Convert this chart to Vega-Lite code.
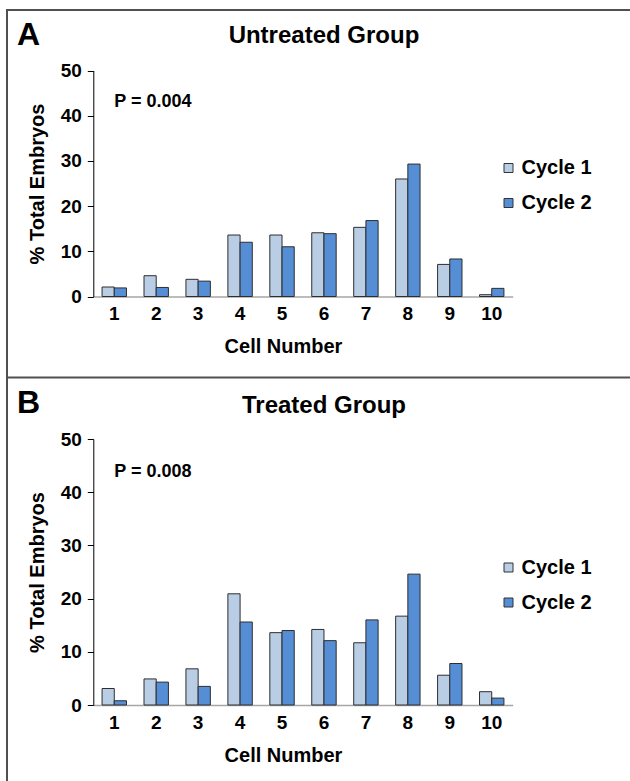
{
  "$schema": "https://vega.github.io/schema/vega-lite/v6.json",
  "width": 640,
  "height": 790,
  "autosize": {"type": "none"},
  "padding": {"left": 7, "top": 10, "right": -17, "bottom": -19},
  "background": "white",
  "config": {
    "font": "Liberation Sans",
    "view": {"stroke": "#505050", "strokeWidth": 2},
    "axis": {"grid": false, "labelFontWeight": "bold", "titleFontWeight": "bold", "labelColor": "black", "titleColor": "black", "labelFontSize": 19, "titleFontSize": 20},
    "legend": {"labelFontSize": 20, "labelFontWeight": "bold", "labelColor": "black", "padding": 0, "rowPadding": 15, "labelOffset": 3, "symbolType": "square", "symbolSize": 81, "symbolStrokeColor": "#333333", "symbolStrokeWidth": 1, "title": null}
  },
  "datasets": {
    "bars": [
      {"group": "Untreated", "cell": "1", "cycle": "Cycle 1", "pct": 2.1},
      {"group": "Untreated", "cell": "1", "cycle": "Cycle 2", "pct": 1.9},
      {"group": "Untreated", "cell": "2", "cycle": "Cycle 1", "pct": 4.6},
      {"group": "Untreated", "cell": "2", "cycle": "Cycle 2", "pct": 2.0},
      {"group": "Untreated", "cell": "3", "cycle": "Cycle 1", "pct": 3.8},
      {"group": "Untreated", "cell": "3", "cycle": "Cycle 2", "pct": 3.4},
      {"group": "Untreated", "cell": "4", "cycle": "Cycle 1", "pct": 13.6},
      {"group": "Untreated", "cell": "4", "cycle": "Cycle 2", "pct": 12.0},
      {"group": "Untreated", "cell": "5", "cycle": "Cycle 1", "pct": 13.6},
      {"group": "Untreated", "cell": "5", "cycle": "Cycle 2", "pct": 11.0},
      {"group": "Untreated", "cell": "6", "cycle": "Cycle 1", "pct": 14.1},
      {"group": "Untreated", "cell": "6", "cycle": "Cycle 2", "pct": 13.9},
      {"group": "Untreated", "cell": "7", "cycle": "Cycle 1", "pct": 15.3},
      {"group": "Untreated", "cell": "7", "cycle": "Cycle 2", "pct": 16.8},
      {"group": "Untreated", "cell": "8", "cycle": "Cycle 1", "pct": 26.0},
      {"group": "Untreated", "cell": "8", "cycle": "Cycle 2", "pct": 29.3},
      {"group": "Untreated", "cell": "9", "cycle": "Cycle 1", "pct": 7.1},
      {"group": "Untreated", "cell": "9", "cycle": "Cycle 2", "pct": 8.3},
      {"group": "Untreated", "cell": "10", "cycle": "Cycle 1", "pct": 0.4},
      {"group": "Untreated", "cell": "10", "cycle": "Cycle 2", "pct": 1.8},
      {"group": "Treated", "cell": "1", "cycle": "Cycle 1", "pct": 3.1},
      {"group": "Treated", "cell": "1", "cycle": "Cycle 2", "pct": 0.8},
      {"group": "Treated", "cell": "2", "cycle": "Cycle 1", "pct": 4.9},
      {"group": "Treated", "cell": "2", "cycle": "Cycle 2", "pct": 4.3},
      {"group": "Treated", "cell": "3", "cycle": "Cycle 1", "pct": 6.8},
      {"group": "Treated", "cell": "3", "cycle": "Cycle 2", "pct": 3.5},
      {"group": "Treated", "cell": "4", "cycle": "Cycle 1", "pct": 20.9},
      {"group": "Treated", "cell": "4", "cycle": "Cycle 2", "pct": 15.6},
      {"group": "Treated", "cell": "5", "cycle": "Cycle 1", "pct": 13.6},
      {"group": "Treated", "cell": "5", "cycle": "Cycle 2", "pct": 14.0},
      {"group": "Treated", "cell": "6", "cycle": "Cycle 1", "pct": 14.2},
      {"group": "Treated", "cell": "6", "cycle": "Cycle 2", "pct": 12.1},
      {"group": "Treated", "cell": "7", "cycle": "Cycle 1", "pct": 11.7},
      {"group": "Treated", "cell": "7", "cycle": "Cycle 2", "pct": 16.0},
      {"group": "Treated", "cell": "8", "cycle": "Cycle 1", "pct": 16.7},
      {"group": "Treated", "cell": "8", "cycle": "Cycle 2", "pct": 24.6},
      {"group": "Treated", "cell": "9", "cycle": "Cycle 1", "pct": 5.6},
      {"group": "Treated", "cell": "9", "cycle": "Cycle 2", "pct": 7.8},
      {"group": "Treated", "cell": "10", "cycle": "Cycle 1", "pct": 2.5},
      {"group": "Treated", "cell": "10", "cycle": "Cycle 2", "pct": 1.3}
    ]
  },
  "layer": [
    {
      "layer": [
        {
          "data": {"name": "bars"},
          "transform": [{"filter": "datum.group === 'Untreated'"}],
          "mark": {"type": "bar", "stroke": "#2e2e2e", "strokeWidth": 1},
          "encoding": {
            "x": {"field": "cell", "type": "ordinal", "scale": {"domain": ["1", "2", "3", "4", "5", "6", "7", "8", "9", "10"], "range": [86.3, 505.7], "paddingInner": 0.418, "paddingOuter": 0.209},
                  "axis": {"orient": "bottom", "offset": -503.5, "title": "Cell Number", "labelAngle": 0, "ticks": false, "tickSize": 0, "labelPadding": 8, "domainColor": "#a6a6a6", "domainWidth": 1.5, "titleX": 276, "titleY": 56, "titleBaseline": "alphabetic"}},
            "xOffset": {"field": "cycle", "type": "nominal", "scale": {"paddingInner": 0, "paddingOuter": 0}},
            "y": {"field": "pct", "type": "quantitative", "scale": {"domain": [0, 50], "range": [286.5, 60.5], "nice": false},
                  "axis": {"orient": "left", "offset": -86.3, "title": "% Total Embryos", "values": [0, 10, 20, 30, 40, 50], "format": "d", "domainColor": "black", "tickColor": "black", "tickSize": 6, "labelPadding": 6, "titleX": -50, "titleBaseline": "alphabetic"}},
            "color": {"field": "cycle", "type": "nominal", "scale": {"domain": ["Cycle 1", "Cycle 2"], "range": ["#b9cde5", "#558ed5"]},
                      "legend": {"orient": "none", "legendX": 491.5, "legendY": 148}}
          }
        },
        {
          "data": {"values": [{"t": "A"}]},
          "mark": {"type": "text", "fontSize": 32, "fontWeight": "bold", "align": "left", "baseline": "alphabetic", "dx": -97.3, "color": "black"},
          "encoding": {"x": {"datum": "1"}, "y": {"datum": 55.64}, "text": {"field": "t"}}
        },
        {
          "data": {"values": [{"t": "Untreated Group"}]},
          "mark": {"type": "text", "fontSize": 24, "fontWeight": "bold", "align": "center", "baseline": "alphabetic", "color": "black"},
          "encoding": {"x": {"datum": "6"}, "y": {"datum": 56.02}, "text": {"field": "t"}}
        },
        {
          "data": {"values": [{"t": "P = 0.004"}]},
          "mark": {"type": "text", "fontSize": 18, "fontWeight": "bold", "align": "left", "baseline": "alphabetic", "color": "black"},
          "encoding": {"x": {"datum": "1"}, "y": {"datum": 41.86}, "text": {"field": "t"}}
        }
      ]
    },
    {
      "layer": [
        {
          "data": {"name": "bars"},
          "transform": [{"filter": "datum.group === 'Treated'"}],
          "mark": {"type": "bar", "stroke": "#2e2e2e", "strokeWidth": 1},
          "encoding": {
            "x": {"field": "cell", "type": "ordinal", "scale": {"domain": ["1", "2", "3", "4", "5", "6", "7", "8", "9", "10"], "range": [86.3, 505.7], "paddingInner": 0.418, "paddingOuter": 0.209},
                  "axis": {"orient": "bottom", "offset": -95, "title": "Cell Number", "labelAngle": 0, "ticks": false, "tickSize": 0, "labelPadding": 8, "domainColor": "#a6a6a6", "domainWidth": 1.5, "titleX": 276, "titleY": 56, "titleBaseline": "alphabetic"}},
            "xOffset": {"field": "cycle", "type": "nominal", "scale": {"paddingInner": 0, "paddingOuter": 0}},
            "y": {"field": "pct", "type": "quantitative", "scale": {"domain": [0, 50], "range": [695, 429], "nice": false},
                  "axis": {"orient": "left", "offset": -86.3, "title": "% Total Embryos", "values": [0, 10, 20, 30, 40, 50], "format": "d", "domainColor": "black", "tickColor": "black", "tickSize": 6, "labelPadding": 6, "titleX": -50, "titleBaseline": "alphabetic"}},
            "color": {"field": "cycle", "type": "nominal", "scale": {"domain": ["Cycle 1", "Cycle 2"], "range": ["#b9cde5", "#558ed5"]},
                      "legend": {"orient": "none", "legendX": 491.5, "legendY": 547.5}}
          }
        },
        {
          "data": {"values": [{}]},
          "mark": {"type": "rule", "color": "#505050", "strokeWidth": 2},
          "encoding": {"y": {"datum": 61.56}}
        },
        {
          "data": {"values": [{"t": "B"}]},
          "mark": {"type": "text", "fontSize": 32, "fontWeight": "bold", "align": "left", "baseline": "alphabetic", "dx": -97.3, "color": "black"},
          "encoding": {"x": {"datum": "1"}, "y": {"datum": 54.94}, "text": {"field": "t"}}
        },
        {
          "data": {"values": [{"t": "Treated Group"}]},
          "mark": {"type": "text", "fontSize": 24, "fontWeight": "bold", "align": "center", "baseline": "alphabetic", "color": "black"},
          "encoding": {"x": {"datum": "6"}, "y": {"datum": 54.83}, "text": {"field": "t"}}
        },
        {
          "data": {"values": [{"t": "P = 0.008"}]},
          "mark": {"type": "text", "fontSize": 18, "fontWeight": "bold", "align": "left", "baseline": "alphabetic", "color": "black"},
          "encoding": {"x": {"datum": "1"}, "y": {"datum": 42.8}, "text": {"field": "t"}}
        }
      ]
    }
  ],
  "resolve": {
    "scale": {"y": "independent"},
    "axis": {"x": "independent", "y": "independent"},
    "legend": {"color": "independent"}
  }
}
